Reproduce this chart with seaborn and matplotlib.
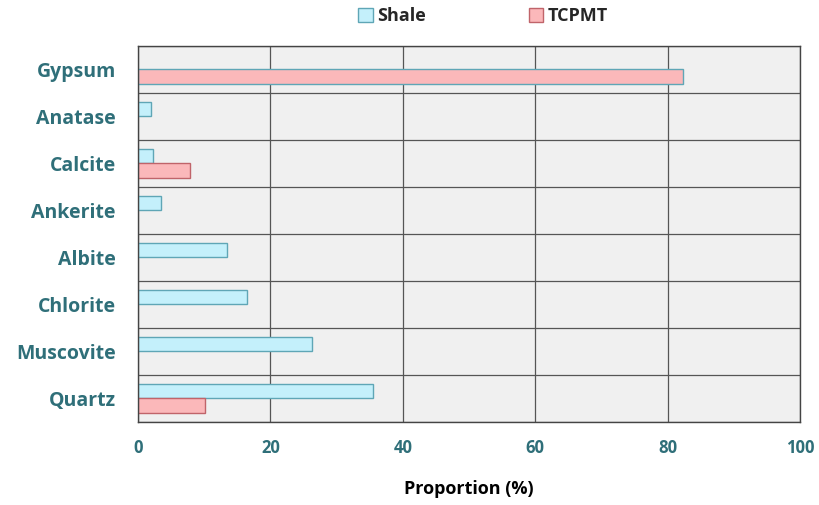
import numpy as np
import pandas as pd
import matplotlib
matplotlib.use("Agg")
import matplotlib.pyplot as plt
import seaborn as sns
from matplotlib.patches import Patch

# values (proportion in %)
minerals = ["Gypsum", "Anatase", "Calcite", "Ankerite", "Albite", "Chlorite", "Muscovite", "Quartz"]
shale = [np.nan, 2.0, 2.3, 3.5, 13.4, 16.5, 26.3, 35.5]
tcpmt = [82.3, np.nan, 7.9, np.nan, np.nan, np.nan, np.nan, 10.1]
samples = ["Shale", "TCPMT"]
x_ticks = [0, 20, 40, 60, 80, 100]

fill_colors = {"Shale": "#c4f0fb", "TCPMT": "#fbb8ba"}
edge_colors = {"Shale": "#5fa6b6", "TCPMT": "#c0646a"}
label_color = "#2f6f79"

df = pd.DataFrame({
    "Mineral": minerals * 2,
    "Sample": ["Shale"] * len(minerals) + ["TCPMT"] * len(minerals),
    "Proportion": shale + tcpmt,
})

sns.set_style("white")
plt.rcParams["font.family"] = ["Open Sans", "DejaVu Sans"]

fig = plt.figure(figsize=(8.19, 5.05), dpi=100)
ax = fig.add_axes([0.1685, 0.1644, 0.8083, 0.7446])

sns.barplot(data=df, y="Mineral", x="Proportion", hue="Sample",
            order=minerals, hue_order=samples, palette=fill_colors,
            orient="h", width=0.6, dodge=True, ax=ax, legend=False,
            linewidth=1.0, saturation=1)

for patch, s in zip(ax.patches, [s for s in samples for _ in minerals]):
    patch.set_edgecolor(edge_colors[s])

ax.set_facecolor("#f0f0f0")
ax.set_xlim(0, 100)
ax.set_ylim(len(minerals) - 0.5, -0.5)
ax.set_xticks(x_ticks)
ax.set_xticklabels([str(t) for t in x_ticks], color=label_color,
                   fontsize=12, fontweight="bold")
ax.set_yticks(range(len(minerals)))
ax.set_yticklabels(minerals, color=label_color, fontsize=14, fontweight="bold")
ax.set_yticks(np.arange(-0.5, len(minerals), 1.0), minor=True)

ax.tick_params(axis="y", which="major", length=0, pad=16)
ax.tick_params(axis="y", which="minor", length=6, width=1, color="#444444", direction="out")
ax.tick_params(axis="x", which="major", length=6, width=1, color="#444444",
               direction="out", pad=6)

ax.grid(False)
ax.xaxis.grid(True, which="major", color="#555555", linewidth=0.9)
ax.yaxis.grid(True, which="minor", color="#555555", linewidth=0.9)
ax.set_axisbelow(True)

for side in ax.spines.values():
    side.set_visible(True)
    side.set_color("#444444")
    side.set_linewidth(1.0)

ax.set_ylabel("")
ax.set_xlabel("Proportion (%)", fontsize=13, fontweight="bold", color="black", labelpad=17)

handles = [Patch(facecolor=fill_colors[s], edgecolor=edge_colors[s], label=s) for s in samples]
fig.legend(handles=handles, loc="center", bbox_to_anchor=(0.59, 0.968), ncol=2,
           frameon=False, handlelength=0.8, handleheight=0.8, handletextpad=0.25,
           columnspacing=5.7, prop={"weight": "bold", "size": 13})

fig.savefig("out.png", dpi=100)
